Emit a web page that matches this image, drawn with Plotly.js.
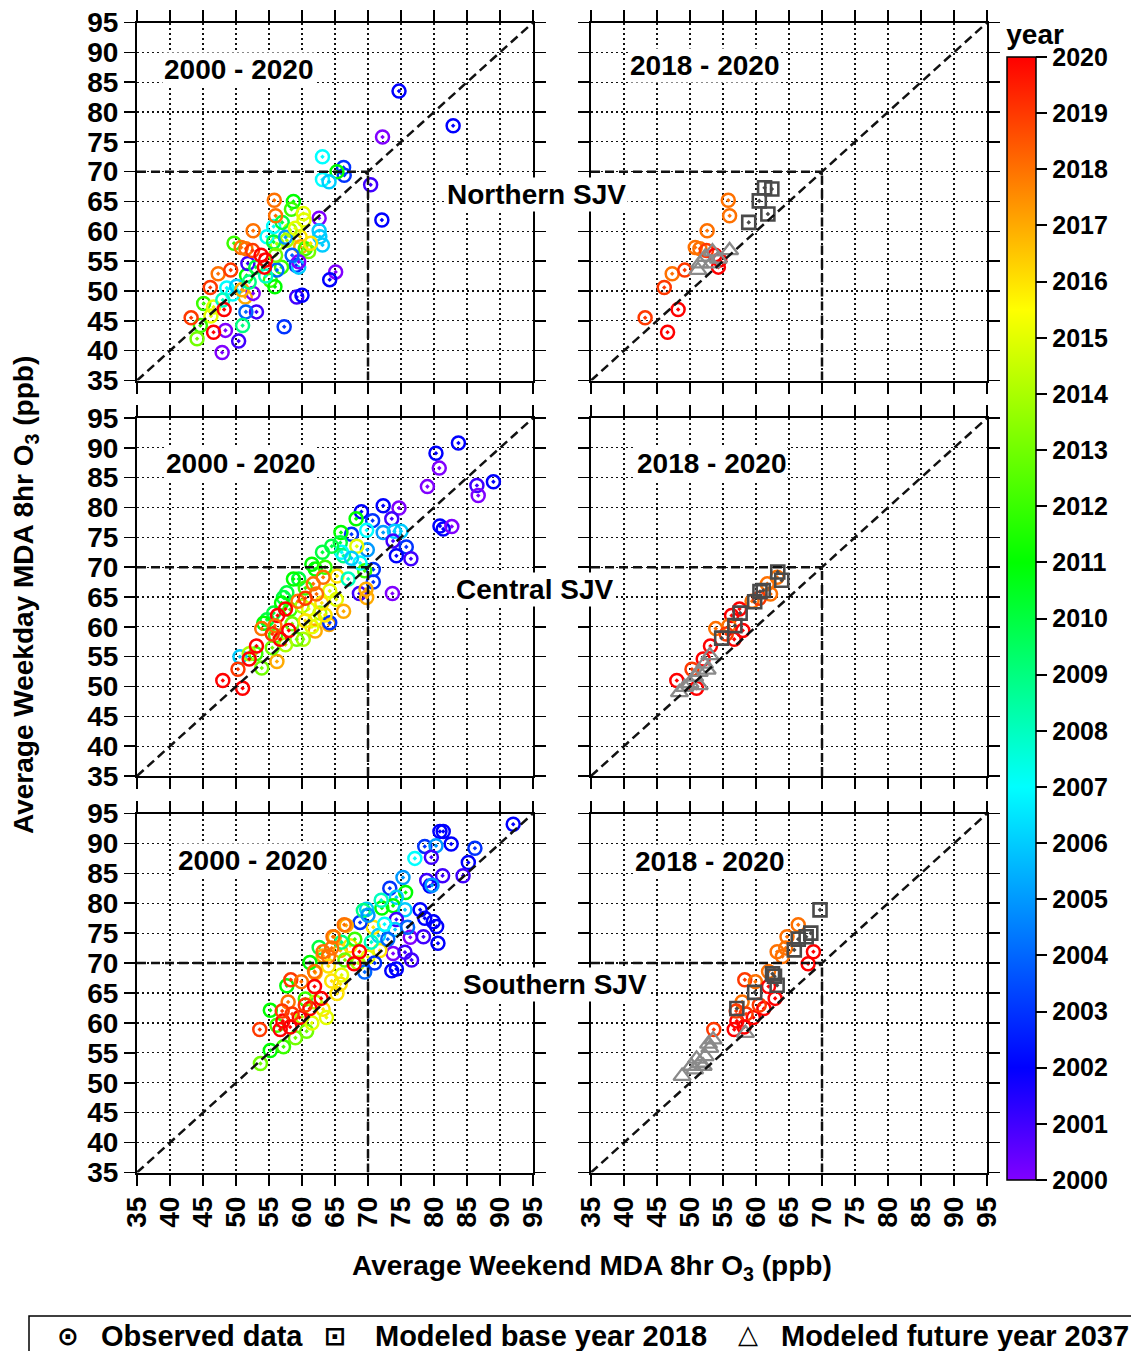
<!DOCTYPE html>
<html><head><meta charset="utf-8">
<script src="https://cdn.plot.ly/plotly-3.0.1.min.js"></script>
<style>html,body{margin:0;padding:0;background:#fff}#chart{width:1131px;height:1351px}</style>
</head><body><div id="chart"></div>
<script>
// ---------------- DATA ----------------
// Northern SJV: observed 2000-2017 (left panel only)
const nEarlyX = [74.7,82.9,72.2,63.1,66.3,66.4,65.3,63.1,64.1,70.4,72.1,62.6,62.6,62.7,63.1,58.7,58.4,60.2,60.3,49.7,59.7,59.8,60.5,59.1,56.9,65.1,64.2,59.2,60.0,51.6,55.2,55.9,51.4,52.6,48.6,49.5,50.1,45.1,46.6,53.1,51.5,46.2,44.6,51.0,48.4,44.1,50.4,47.9,57.3,58.2,57.7,56.2,54.7,55.7,55.7,61.0,51.8,56.2,59.5,59.5,50.9,57.0,56.0,53.0,54.5,52.0,48.0,57.5,59.0,61.3,58.5];
const nEarlyY = [83.5,77.7,75.8,72.5,70.7,69.4,70.0,68.7,68.3,67.8,61.9,62.2,60.1,59.1,57.7,65.0,63.7,63.0,61.9,58.0,59.1,57.4,57.1,54.3,54.0,53.2,51.9,49.0,49.3,52.6,51.8,50.7,49.0,49.6,50.5,49.5,50.8,47.9,47.3,46.5,46.5,45.8,44.2,44.2,43.4,42.0,41.6,39.7,44.0,60.2,58.5,57.9,59.1,60.8,58.2,56.6,54.6,53.5,54.0,54.9,50.2,61.5,56.0,54.0,52.5,51.5,48.5,59.0,60.5,58.0,56.0];
const nEarlyYr = [2002,2002,2000,2007,2003,2003,2011,2007,2006,2001,2002,2000,2006,2006,2006,2011,2012,2015,2015,2012,2016,2017,2012,2003,2012,2000,2002,2001,2002,2011,2012,2011,2017,2000,2007,2007,2006,2012,2015,2001,2004,2015,2012,2009,2000,2013,2001,2000,2003,2014,2014,2014,2007,2007,2010,2013,2001,2004,2006,2000,2017,2010,2013,2010,2008,2009,2008,2005,2015,2016,2004];
// Northern SJV: observed 2018-2020
const nRecX = [55.8,56.0,52.6,50.8,51.5,52.5,53.8,54.5,54.3,47.3,49.2,46.1,48.2,43.2,46.6];
const nRecY = [65.2,62.6,60.1,57.3,57.1,56.8,56.0,55.2,54.0,52.9,53.5,50.6,46.9,45.5,43.1];
const nRecYr = [2018,2018,2018,2018,2018,2019,2020,2020,2020,2018,2019,2019,2020,2019,2020];
const nBaseX = [61.3,62.4,60.5,61.8,58.9];
const nBaseY = [67.3,67.1,65.1,62.9,61.5];
const nFutX = [56.0,53.4,52.3,51.5,54.3,51.2,53.2];
const nFutY = [56.8,56.6,55.7,54.6,55.4,53.5,54.6];

// Central SJV
const cEarlyX = [83.7,80.3,80.8,79.0,89.0,86.5,86.7,72.3,74.7,69.0,70.7,73.6,67.5,69.8,72.3,74.0,75.0,73.8,80.9,81.4,82.7,75.8,74.3,76.5,73.7,69.9,68.3,70.8,69.5,68.8,70.8,68.7,69.7,69.8,68.2,65.9,65.8,63.1,62.0,59.5,57.7,66.3,66.0,65.3,64.2,65.2,66.3,62.7,62.0,64.1,62.0,60.2,57.2,55.7,54.7,50.6,53.9,56.2,54.2,58.7,56.9,58.2,64.2,59.2,60.5,61.5,63.5,64.5,60.0,61.0,63.0,58.5,56.0,57.5,55.5,60.5,61.5,63.5,67.0,67.5,53.0,52.0];
const cEarlyY = [90.8,89.1,86.6,83.5,84.3,83.7,82.0,80.3,79.9,79.3,77.8,78.1,75.5,76.2,75.8,76.0,76.0,74.4,76.9,76.4,76.8,73.4,71.9,71.4,65.6,72.9,73.5,69.6,69.4,70.7,67.5,65.6,66.3,64.9,78.1,75.8,74.1,72.5,69.7,68.0,65.7,71.9,72.5,68.5,66.0,64.6,62.6,62.3,61.2,60.4,59.3,57.9,64.9,62.3,61.2,55.0,53.1,54.2,60.6,68.0,64.0,62.9,60.7,57.9,66.5,70.5,70.0,73.5,63.5,63.0,64.0,60.5,58.5,57.0,56.5,61.0,60.0,62.0,68.0,71.5,55.5,55.5];
const cEarlyYr = [2002,2002,2000,2000,2002,2001,2000,2002,2000,2002,2003,2001,2003,2007,2005,2006,2006,2001,2002,2002,2000,2003,2002,2001,2000,2005,2015,2003,2012,2007,2003,2001,2017,2017,2011,2011,2010,2010,2011,2010,2010,2009,2007,2016,2015,2015,2017,2014,2015,2017,2017,2014,2010,2010,2010,2006,2013,2017,2011,2011,2011,2012,2003,2013,2012,2011,2012,2010,2014,2015,2016,2013,2012,2014,2013,2016,2015,2016,2008,2006,2012,2014];
const cRecX = [63.2,61.7,62.2,59.4,60.5,57.5,56.3,53.9,55.9,58.0,56.7,55.5,53.1,52.0,50.3,48.0,51.0];
const cRecY = [68.3,67.2,65.5,64.3,64.8,63.0,61.9,59.7,60.2,59.4,57.9,58.8,56.8,54.6,52.9,51.0,49.7];
const cRecYr = [2018,2018,2018,2018,2019,2020,2020,2018,2018,2020,2020,2019,2020,2020,2019,2020,2020];
const cBaseX = [63.3,63.9,61.1,60.6,59.8,57.6,56.8,54.8];
const cBaseY = [69.2,67.8,66.1,65.9,64.2,62.3,60.2,58.1];
const cFutX = [53.0,52.2,51.4,50.7,49.2,48.4,51.4,52.6,50.0];
const cFutY = [55.2,53.8,52.4,51.6,49.9,49.0,50.2,52.8,50.5];

// Southern SJV
const sEarlyX = [92.0,80.9,81.4,82.6,86.2,85.2,84.4,78.6,80.3,77.1,79.6,81.3,78.9,79.4,79.7,75.3,73.3,75.7,74.3,69.8,72.1,73.8,75.6,77.9,78.6,79.9,80.4,74.3,74.1,76.4,78.4,80.6,73.8,75.6,76.6,73.6,74.3,70.8,68.8,71.6,69.3,66.7,64.9,62.6,65.8,67.3,71.8,63.2,62.0,61.2,57.7,65.8,65.3,55.2,63.2,63.7,60.7,59.0,55.2,57.2,53.7,56.2,70.0,68.5,64.0,66.0,64.5,69.5,71.0,60.5,62.0,60.0,61.5,66.5,68.0,70.5,72.5,73.0,76.0,70.0,72.0,66.0];
const sEarlyY = [93.2,92.0,92.0,89.9,89.2,86.8,84.6,89.5,89.6,87.5,87.7,84.6,83.8,82.9,83.0,84.3,82.5,81.8,81.0,79.0,79.2,79.6,78.9,78.9,77.5,76.9,76.1,77.3,75.6,74.3,74.4,73.3,71.6,71.8,70.5,68.7,69.0,76.0,76.8,74.6,78.8,76.3,74.3,72.6,72.1,72.9,72.1,71.2,68.4,70.1,66.2,66.5,64.9,62.1,62.3,60.9,58.6,57.5,55.4,56.0,53.2,59.6,71.0,70.0,69.5,68.0,67.0,68.5,70.0,64.0,63.5,61.0,60.0,70.5,74.0,73.5,76.5,74.0,76.0,78.0,80.5,73.5];
const sEarlyYr = [2002,2002,2002,2002,2003,2002,2001,2003,2005,2007,2001,2001,2001,2002,2005,2005,2003,2011,2006,2006,2011,2011,2006,2002,2002,2002,2002,2001,2006,2000,2001,2002,2000,2001,2001,2002,2002,2016,2003,2006,2009,2017,2017,2010,2017,2016,2016,2017,2017,2011,2011,2016,2016,2011,2016,2015,2013,2013,2011,2012,2013,2012,2015,2014,2016,2015,2016,2004,2003,2012,2014,2014,2015,2013,2012,2008,2007,2004,2004,2005,2008,2009];
const sRecX = [66.4,64.7,64.5,63.2,64.0,68.7,67.9,61.9,58.3,59.9,62.9,61.2,57.9,57.1,56.7,59.6,53.6,61.9,58.5,60.5,57.0,58.2];
const sRecY = [76.4,74.4,72.5,71.9,71.1,71.9,69.9,68.6,67.2,66.9,64.1,62.4,63.5,60.3,58.9,60.9,58.9,66.1,61.5,63.0,62.0,59.3];
const sRecYr = [2018,2018,2018,2018,2018,2020,2020,2018,2019,2018,2020,2020,2018,2020,2020,2020,2019,2020,2019,2019,2019,2020];
const sBaseX = [69.7,68.3,67.6,66.4,65.8,62.5,62.8,63.2,59.8,57.1];
const sBaseY = [78.9,75.0,74.4,74.0,72.2,68.2,67.8,66.3,65.1,62.4];
const sFutX = [58.4,53.5,53.0,52.3,51.5,50.7,52.0,48.8,50.2,52.8,51.0];
const sFutY = [58.3,57.2,55.8,54.4,53.3,52.2,52.8,51.1,52.8,56.5,54.0];

const regions = ['Northern SJV', 'Central SJV', 'Southern SJV'];
const periodAll = '2000 - 2020';
const periodRecent = '2018 - 2020';
const axisTicks = [35,40,45,50,55,60,65,70,75,80,85,90,95];
const yearTicks = [2000,2001,2002,2003,2004,2005,2006,2007,2008,2009,2010,2011,2012,2013,2014,2015,2016,2017,2018,2019,2020];
const naaqs = 70;
const legendLabels = ['Observed data', 'Modeled base year 2018', 'Modeled future year 2037'];

// ---------------- LAYOUT HELPERS ----------------
const W = 1131, H = 1351;
const px = v => v / W;
const py = v => 1 - v / H;
const FONT = 'Liberation Sans, Arial, sans-serif';

const colPx = [[137, 533], [591, 987]];
const rowPx = [[22.5, 380.5], [418, 776], [813.5, 1172.5]];

const colorscale = [[0,'#8000ff'],[0.1,'#0000ff'],[0.35,'#00ffff'],[0.55,'#00ff00'],[0.775,'#ffff00'],[1,'#ff0000']];

const panels = [
  {ex: nEarlyX, ey: nEarlyY, eyr: nEarlyYr, rx: nRecX, ry: nRecY, ryr: nRecYr, bx: nBaseX, by: nBaseY, fx: nFutX, fy: nFutY},
  {ex: cEarlyX, ey: cEarlyY, eyr: cEarlyYr, rx: cRecX, ry: cRecY, ryr: cRecYr, bx: cBaseX, by: cBaseY, fx: cFutX, fy: cFutY},
  {ex: sEarlyX, ey: sEarlyY, eyr: sEarlyYr, rx: sRecX, ry: sRecY, ryr: sRecYr, bx: sBaseX, by: sBaseY, fx: sFutX, fy: sFutY}
];

const traces = [];
const layout = {
  width: W, height: H,
  margin: {l: 0, r: 0, t: 0, b: 0, pad: 0},
  paper_bgcolor: '#fff', plot_bgcolor: '#fff',
  showlegend: false,
  font: {family: FONT, color: '#000'},
  coloraxis: {
    cmin: 2000, cmax: 2020, colorscale: colorscale,
    colorbar: {
      x: px(1007), xanchor: 'left', xpad: 0,
      y: py(1180), yanchor: 'bottom', ypad: 0,
      lenmode: 'pixels', len: 1180 - 21,
      thicknessmode: 'pixels', thickness: 29,
      outlinewidth: 1.5, outlinecolor: '#000', borderwidth: 0,
      tickmode: 'array', tickvals: yearTicks, ticktext: yearTicks.map(String),
      ticks: 'outside', ticklen: 11, tickwidth: 2, tickcolor: '#000',
      tickfont: {family: FONT, size: 25, weight: 'bold', color: '#000'},
      title: {text: 'year', side: 'top', font: {family: FONT, size: 28, weight: 'bold', color: '#000'}}
    }
  },
  shapes: [],
  annotations: []
};

function axisCfg(domain, anchor, showLabels, isX) {
  const a = {
    domain: domain, anchor: anchor, range: [35, 95], autorange: false,
    tickmode: 'array', tickvals: axisTicks, ticktext: axisTicks.map(String),
    showgrid: true, gridcolor: '#111', gridwidth: 1.3, griddash: '2px,3px',
    zeroline: false, showline: true, linecolor: '#000', linewidth: 2, mirror: 'ticks',
    ticks: 'outside', ticklen: 11, tickwidth: 1.6, tickcolor: '#000',
    showticklabels: showLabels, automargin: false, fixedrange: true,
    tickfont: {family: FONT, size: 28, weight: 'bold', color: '#000'}
  };
  if (isX) a.tickangle = -90;
  return a;
}

let idx = 1;
for (let r = 0; r < 3; r++) {
  for (let c = 0; c < 2; c++) {
    const xa = idx === 1 ? 'x' : 'x' + idx;
    const ya = idx === 1 ? 'y' : 'y' + idx;
    const xKey = idx === 1 ? 'xaxis' : 'xaxis' + idx;
    const yKey = idx === 1 ? 'yaxis' : 'yaxis' + idx;
    const xd = [px(colPx[c][0]), px(colPx[c][1])];
    const yd = [py(rowPx[r][1]), py(rowPx[r][0])];
    layout[xKey] = axisCfg(xd, ya, r === 2, true);
    layout[yKey] = axisCfg(yd, xa, c === 0, false);

    const p = panels[r];
    const ox = c === 0 ? p.ex.concat(p.rx) : p.rx;
    const oy = c === 0 ? p.ey.concat(p.ry) : p.ry;
    const oyr = c === 0 ? p.eyr.concat(p.ryr) : p.ryr;

    traces.push({
      type: 'scatter', mode: 'markers', x: ox, y: oy, xaxis: xa, yaxis: ya,
      name: legendLabels[0],
      marker: {symbol: 'circle-open-dot', size: 13, color: oyr, coloraxis: 'coloraxis', line: {width: 2.5}},
      hoverinfo: 'skip'
    });
    if (c === 1) {
      traces.push({
        type: 'scatter', mode: 'markers', x: p.bx, y: p.by, xaxis: xa, yaxis: ya,
        name: legendLabels[1],
        marker: {symbol: 'square-open-dot', size: 13, color: '#4a4a4a', line: {width: 2.6}},
        hoverinfo: 'skip'
      });
      traces.push({
        type: 'scatter', mode: 'markers', x: p.fx, y: p.fy, xaxis: xa, yaxis: ya,
        name: legendLabels[2],
        marker: {symbol: 'triangle-up-open', size: 15, color: '#8a8a8a', line: {width: 2.3}},
        hoverinfo: 'skip'
      });
    }

    const dashLine = {color: '#111', width: 2.5, dash: '9px,5px'};
    layout.shapes.push({type: 'line', xref: xa, yref: ya, x0: 35, y0: 35, x1: 95, y1: 95, line: dashLine, layer: 'above'});
    layout.shapes.push({type: 'line', xref: xa, yref: ya, x0: 35, y0: naaqs, x1: naaqs, y1: naaqs, line: dashLine, layer: 'above'});
    layout.shapes.push({type: 'line', xref: xa, yref: ya, x0: naaqs, y0: 35, x1: naaqs, y1: naaqs, line: dashLine, layer: 'above'});
    idx++;
  }
}

const boldFont = (s) => ({family: FONT, size: s, weight: 'bold', color: '#000'});
function ann(text, x, y, font, extra) {
  return Object.assign({text: text, xref: 'paper', yref: 'paper', x: px(x), y: py(y),
    xanchor: 'center', yanchor: 'middle', showarrow: false, font: font}, extra || {});
}

// period labels
const allPos = [[238, 70], [240, 463], [252, 860]];
const recPos = [[704, 66], [711, 463], [709, 861]];
const regPos = [[536, 195], [534, 590], [555, 984]];
for (let r = 0; r < 3; r++) {
  layout.annotations.push(ann(periodAll, allPos[r][0], allPos[r][1], boldFont(28), {bgcolor: '#fff', borderpad: 1}));
  layout.annotations.push(ann(periodRecent, recPos[r][0], recPos[r][1], boldFont(28), {bgcolor: '#fff', borderpad: 1}));
  layout.annotations.push(ann(regions[r], regPos[r][0], regPos[r][1], boldFont(28), {bgcolor: '#fff', borderpad: 1}));
}

// axis titles
layout.annotations.push(ann('Average Weekday MDA 8hr O<sub>3</sub> (ppb)', 25, 595,
  boldFont(28), {textangle: -90}));
layout.annotations.push(ann('Average Weekend MDA 8hr O<sub>3</sub> (ppb)', 592, 1267,
  boldFont(28)));

// bottom legend box
layout.shapes.push({type: 'rect', xref: 'paper', yref: 'paper', x0: px(29), x1: px(1140), y0: py(1360), y1: py(1316),
  line: {color: '#000', width: 1.5}, fillcolor: 'rgba(0,0,0,0)', layer: 'above'});
const symFont = {family: 'DejaVu Sans', size: 26, color: '#000', weight: 'bold'};
layout.annotations.push(ann('\u2299', 68, 1336, symFont));
layout.annotations.push(ann(legendLabels[0], 99, 1336, boldFont(29), {xanchor: 'left'}));
layout.annotations.push(ann('\u22A1', 335, 1336, symFont));
layout.annotations.push(ann(legendLabels[1], 373, 1336, boldFont(29), {xanchor: 'left'}));
layout.annotations.push(ann('\u25B3', 748, 1334, symFont));
layout.annotations.push(ann(legendLabels[2], 779, 1336, boldFont(29), {xanchor: 'left'}));

Plotly.newPlot('chart', traces, layout, {staticPlot: true, displayModeBar: false});
</script></body></html>
